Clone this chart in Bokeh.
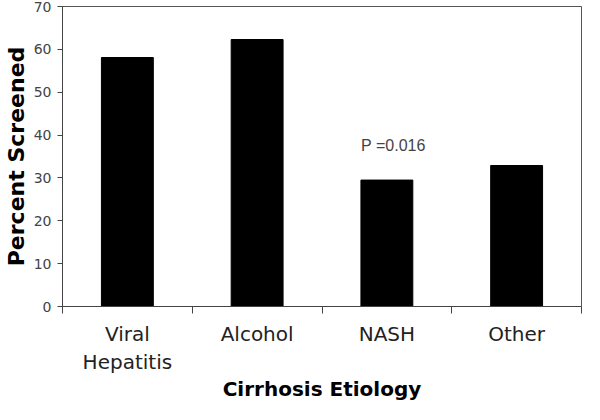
from bokeh.plotting import figure
from bokeh.models import FixedTicker, Label, Range1d, ColumnDataSource
from bokeh.embed import file_html
from bokeh.resources import INLINE

categories = ["Viral Hepatitis", "Alcohol", "NASH", "Other"]
tick_labels = ["Viral\nHepatitis", "Alcohol", "NASH", "Other"]
percent_screened = [58.1, 62.3, 29.5, 32.9]
y_ticks = [0, 10, 20, 30, 40, 50, 60, 70]
p_value_text = "P =0.016"

centers = [i + 0.5 for i in range(len(categories))]
boundaries = list(range(len(categories) + 1))

src = ColumnDataSource(dict(x=centers, top=percent_screened, cat=categories))

p = figure(width=584, height=404, output_backend="svg", toolbar_location=None,
           x_range=Range1d(0, len(categories)), y_range=Range1d(0, 70),
           min_border_left=0, min_border_right=3, min_border_top=6, min_border_bottom=0)

p.vbar(x="x", top="top", width=0.4, bottom=0, source=src,
       fill_color="black", line_color="black")

p.xgrid.visible = False
p.ygrid.visible = False
p.outline_line_color = "#555555"
p.outline_line_width = 1
p.background_fill_color = "white"
p.border_fill_color = "white"

# x axis
xa = p.xaxis[0]
xa.ticker = FixedTicker(ticks=centers, minor_ticks=boundaries)
xa.major_label_overrides = {c: t for c, t in zip(centers, tick_labels)}
xa.major_tick_line_color = None
xa.major_tick_out = 0
xa.major_tick_in = 0
xa.minor_tick_out = 7
xa.minor_tick_in = 0
xa.minor_tick_line_color = "#444444"
xa.axis_line_color = "#444444"
xa.major_label_text_font = "DejaVu Sans"
xa.major_label_text_font_size = "20px"
xa.major_label_text_color = "#222222"
xa.major_label_standoff = 8
xa.axis_label = "Cirrhosis Etiology"
xa.axis_label_text_font = "DejaVu Sans"
xa.axis_label_text_font_style = "bold"
xa.axis_label_text_font_size = "20px"
xa.axis_label_text_color = "black"
xa.axis_label_standoff = 0

# y axis
ya = p.yaxis[0]
ya.ticker = FixedTicker(ticks=y_ticks)
ya.minor_tick_line_color = None
ya.major_tick_out = 5
ya.major_tick_in = 0
ya.major_tick_line_color = "#444444"
ya.axis_line_color = "#444444"
ya.major_label_text_font = "DejaVu Sans"
ya.major_label_text_font_size = "14px"
ya.major_label_text_color = "#444444"
ya.major_label_standoff = 6
ya.axis_label = "Percent Screened"
ya.axis_label_text_font = "DejaVu Sans"
ya.axis_label_text_font_style = "bold"
ya.axis_label_text_font_size = "22px"
ya.axis_label_text_color = "black"
ya.axis_label_standoff = 2

p.add_layout(Label(x=2.55, y=37.5, text=p_value_text, text_align="center",
                   text_baseline="middle", text_font="Liberation Sans",
                   text_font_size="16px", text_color="#444444"))

open("out.html", "w").write(file_html(p, INLINE))
